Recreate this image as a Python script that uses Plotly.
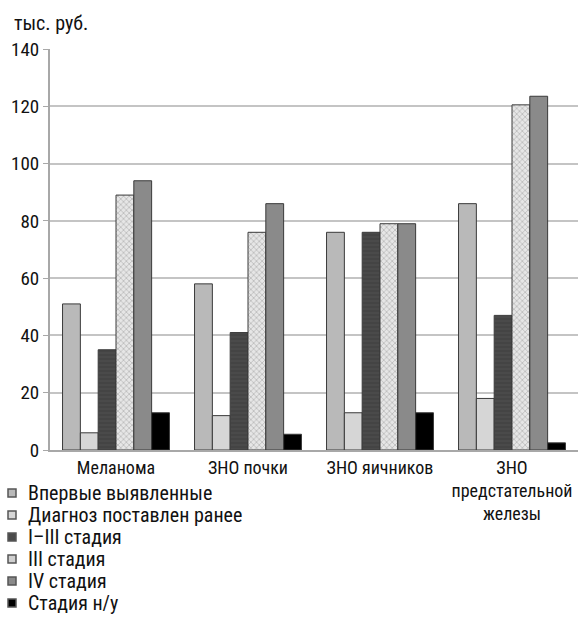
import plotly.graph_objects as go

categories = ["Меланома", "ЗНО почки", "ЗНО яичников", "ЗНО<br>предстательной<br>железы"]
series_names = ["Впервые выявленные", "Диагноз поставлен ранее", "I–III стадия",
                "III стадия", "IV стадия", "Стадия н/у"]
values = {
    "Впервые выявленные": [51, 58, 76, 86],
    "Диагноз поставлен ранее": [6, 12, 13, 18],
    "I–III стадия": [35, 41, 76, 47],
    "III стадия": [89, 76, 79, 120.5],
    "IV стадия": [94, 86, 79, 123.5],
    "Стадия н/у": [13, 5.5, 13, 2.5],
}
y_ticks = [0, 20, 40, 60, 80, 100, 120, 140]

styles = {
    "Впервые выявленные": dict(color="#b9b9b9", pattern=""),
    "Диагноз поставлен ранее": dict(color="#d6d6d6", pattern=""),
    "I–III стадия": dict(color="#4a4a4a", pattern="-"),
    "III стадия": dict(color="#e6e6e6", pattern="x"),
    "IV стадия": dict(color="#8a8a8a", pattern=""),
    "Стадия н/у": dict(color="#000000", pattern=""),
}

FONT = "Liberation Sans Narrow, Roboto Condensed, Arial Narrow, Liberation Sans, sans-serif"

W, H = 583, 635
ML, MR, MT, MB = 50, 5, 49, 185
PW, PH = W - ML - MR, H - MT - MB

def px_x(px):
    return (px - ML) / PW

def px_y(py):
    return (H - MB - py) / PH

fig = go.Figure()
for name in series_names:
    st = styles[name]
    marker = dict(color=st["color"], line=dict(color="#3a3a3a", width=1))
    if st["pattern"]:
        marker["pattern"] = dict(shape=st["pattern"],
                                 fgcolor="#777777" if st["pattern"] == "x" else "#333333",
                                 bgcolor=st["color"], size=4, solidity=0.3)
    fig.add_trace(go.Bar(name=name, x=categories, y=values[name], marker=marker,
                         showlegend=False))

# custom legend (small squares + labels) positioned as in the reference
shapes = []
annotations = [dict(text="тыс. руб.", xref="paper", yref="paper",
                    x=px_x(12), y=px_y(23), xanchor="left", yanchor="middle",
                    showarrow=False, font=dict(size=20, family=FONT))]
for i, name in enumerate(series_names):
    cy = 493 + i * 22
    shapes.append(dict(type="rect", xref="paper", yref="paper",
                       x0=px_x(8), x1=px_x(16), y0=px_y(cy - 4), y1=px_y(cy + 4),
                       fillcolor=styles[name]["color"] if name != "III стадия" else "#cfcfcf",
                       line=dict(color="#555555", width=1.5)))
    annotations.append(dict(text=name, xref="paper", yref="paper",
                            x=px_x(26), y=px_y(cy), xanchor="left", yanchor="middle",
                            showarrow=False, font=dict(size=20, family=FONT)))

fig.update_layout(
    width=W, height=H,
    margin=dict(l=ML, r=MR, t=MT, b=MB),
    paper_bgcolor="white", plot_bgcolor="white",
    barmode="group", bargap=0.19, bargroupgap=0,
    font=dict(family=FONT, size=16, color="#111111"),
    showlegend=False,
    shapes=shapes,
    annotations=annotations,
)
fig.update_yaxes(range=[0, 140], tickvals=y_ticks, showgrid=True, gridcolor="#c4c4c4",
                 gridwidth=2, showline=True, linecolor="#a8a8a8", linewidth=2,
                 ticks="outside", ticklen=5, tickcolor="#a8a8a8", zeroline=False,
                 tickfont=dict(size=19, family=FONT))
fig.update_xaxes(showline=True, linecolor="#a8a8a8", linewidth=2, showgrid=False,
                 tickfont=dict(size=18, family=FONT), ticks="")

fig.write_html("out.html")
